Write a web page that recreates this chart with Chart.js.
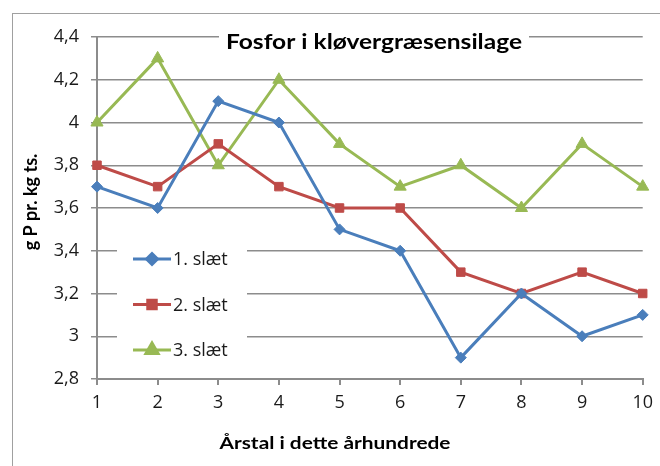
<!DOCTYPE html>
<html>
<head>
<meta charset="utf-8">
<script src="https://cdn.jsdelivr.net/npm/chart.js@4/dist/chart.umd.min.js"></script>
<style>
  html, body { margin: 0; padding: 0; background: #fff; }
  #wrap { position: relative; width: 660px; height: 466px; }
  #frame { position: absolute; left: 12px; top: 13px; right: 0; bottom: 0;
           border-top: 1px solid #a0a0a0; border-left: 1px solid #a0a0a0; }
  canvas { position: absolute; left: 0; top: 0; }
</style>
</head>
<body>
<div id="wrap">
  <div id="frame"></div>
  <canvas id="chart" width="660" height="466"></canvas>
</div>
<script>
const years = ['1', '2', '3', '4', '5', '6', '7', '8', '9', '10'];
const slaet1 = [3.7, 3.6, 4.1, 4.0, 3.5, 3.4, 2.9, 3.2, 3.0, 3.1];
const slaet2 = [3.8, 3.7, 3.9, 3.7, 3.6, 3.6, 3.3, 3.2, 3.3, 3.2];
const slaet3 = [4.0, 4.3, 3.8, 4.2, 3.9, 3.7, 3.8, 3.6, 3.9, 3.7];
const seriesNames = ['1. slæt', '2. slæt', '3. slæt'];

const chartTitle = 'Fosfor i kløvergræsensilage';
const yTitle = 'g P pr. kg ts.';
const xTitle = 'Årstal i dette århundrede';

const boldFont = 'Lato, "Open Sans", sans-serif';
const textFont = '"Open Sans", Lato, sans-serif';
const gridColor = '#8c8c8c';

// draw text stretched sideways to a given width (the reference is a bit wide)
function wideText(c, text, x, y, width) {
    const w = c.measureText(text).width;
    c.save();
    c.translate(x, y);
    c.scale(width / w, 1);
    c.fillText(text, 0, 0);
    c.restore();
}

// title, axis titles and the legend sit on white boxes that cut the gridlines
const overlay = {
    id: 'overlay',
    afterDraw(chart) {
        const c = chart.ctx;
        const area = chart.chartArea;
        c.save();
        c.textAlign = 'center';
        c.textBaseline = 'middle';

        // title
        c.font = 'bold 21px ' + boldFont;
        const tw = 296;
        const tx = 374;
        c.fillStyle = '#fff';
        c.fillRect(tx - tw / 2 - 7, area.top - 6, tw + 14, 24);
        c.fillStyle = '#000';
        wideText(c, chartTitle, tx, area.top + 5, tw);

        // x axis title
        c.font = 'bold 17px ' + boldFont;
        wideText(c, xTitle, 335, 444, 231);

        // y axis title
        c.save();
        c.font = 'bold 18px ' + boldFont;
        c.translate(31, 202);
        c.rotate(-Math.PI / 2);
        c.fillText(yTitle, 0, 0);
        c.restore();

        // legend
        const lx = area.left + 20;
        c.fillStyle = '#fff';
        c.fillRect(lx, 240, 130, 126);
        c.font = '18px ' + textFont;
        c.textAlign = 'left';
        chart.data.datasets.forEach((ds, i) => {
            const y = 259 + i * 45.5;
            c.strokeStyle = ds.borderColor;
            c.lineWidth = 3;
            c.beginPath();
            c.moveTo(lx + 16, y);
            c.lineTo(lx + 54, y);
            c.stroke();
            Chart.helpers.drawPoint(c, {
                pointStyle: ds.pointStyle,
                radius: ds.pointRadius,
                borderWidth: 1
            }, lx + 35, y);
            c.fillStyle = ds.borderColor;
            c.fill();
            c.fillStyle = '#1a1a1a';
            c.fillText(ds.label, lx + 56, y + 1);
        });
        c.restore();
    }
};

function series(label, data, color, style, radius) {
    return {
        label: label,
        data: data,
        borderColor: color,
        backgroundColor: color,
        borderWidth: 3,
        pointStyle: style,
        pointRadius: radius,
        pointHoverRadius: radius,
        pointBorderWidth: 1,
        tension: 0
    };
}

new Chart(document.getElementById('chart'), {
    type: 'line',
    data: {
        labels: years,
        datasets: [
            series(seriesNames[0], slaet1, '#4a7ebb', 'rectRot', 5.5),
            series(seriesNames[1], slaet2, '#be4b48', 'rect', 6),
            series(seriesNames[2], slaet3, '#98b954', 'triangle', 7)
        ]
    },
    options: {
        responsive: false,
        animation: false,
        layout: { padding: { left: 0, top: 37, right: 17, bottom: 0 } },
        plugins: {
            legend: { display: false },
            tooltip: { enabled: false }
        },
        scales: {
            x: {
                offset: false,
                afterFit: s => { s.height = 87; },
                grid: { drawOnChartArea: false, drawTicks: true, tickLength: 6, color: gridColor, lineWidth: 2 },
                border: { color: gridColor, width: 2 },
                ticks: { color: '#1a1a1a', font: { family: textFont, size: 18 }, padding: 7, maxRotation: 0 }
            },
            y: {
                min: 2.8,
                max: 4.4,
                afterFit: s => { s.width = 97; },
                grid: { color: gridColor, lineWidth: 1.5, tickLength: 6 },
                border: { color: gridColor, width: 2 },
                ticks: {
                    stepSize: 0.2,
                    color: '#1a1a1a',
                    padding: 12,
                    font: { family: textFont, size: 18 },
                    callback: v => String(Math.round(v * 10) / 10).replace('.', ',')
                }
            }
        }
    },
    plugins: [overlay]
});
</script>
</body>
</html>
